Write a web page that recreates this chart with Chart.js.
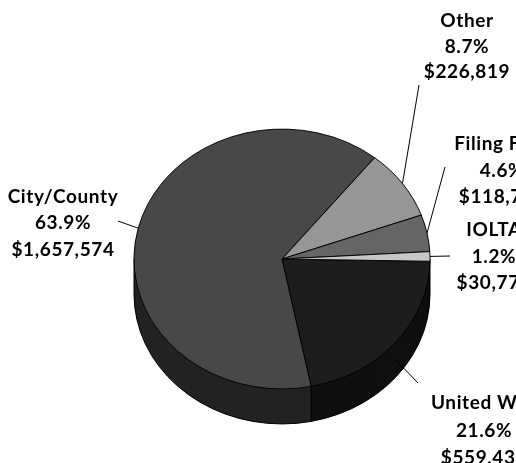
<!DOCTYPE html>
<html>
<head>
<meta charset="utf-8">
<script src="https://cdn.jsdelivr.net/npm/chart.js@4.4.0/dist/chart.umd.min.js"></script>
<style>
html, body { margin: 0; padding: 0; background: #fff; }
#wrap { width: 516px; height: 463px; }
</style>
</head>
<body>
<div id="wrap"><canvas id="fundChart" width="516" height="463"></canvas></div>
<script>
// funding sources, in drawing order (clockwise from 3 o'clock)
var sources = ["United Way", "City/County", "Other", "Filing Fees", "IOLTA"];
var amounts = [559436, 1657574, 226819, 118735, 30772];
var topColors = ["#1d1d1d", "#484848", "#969696", "#656565", "#c6c6c6"];
var sideColors = ["#0f0f0f", "#232323", "#5c5c5c", "#3c3c3c", "#8a8a8a"];

var tilt = 0.878;   // vertical squash of the pie top
var depth = 35;     // thickness of the pie in px

// label text centres and where each leader line ends
var labelSpots = {
	"United Way":  { x: 484, y: [403, 431, 458], lx: 418, ly: 383 },
	"City/County": { x: 63,  y: [197, 223, 250], lx: 118, ly: 221 },
	"Other":       { x: 467, y: [21, 47, 72],    lx: 419, ly: 85 },
	"Filing Fees": { x: 502, y: [144, 171, 197], lx: 445, ly: 167 },
	"IOLTA":       { x: 494, y: [230, 257, 283], lx: 450, ly: 256 }
};

var total = 0;
for (var i = 0; i < amounts.length; i++) total += amounts[i];

function money(v) {
	return "$" + v.toLocaleString("en-US");
}

var pie3d = {
	id: "pie3d",
	beforeDatasetsDraw: function(chart) {
		var ctx = chart.ctx;
		var arcs = chart.getDatasetMeta(0).data;
		var cx = arcs[0].x, cy = arcs[0].y, r = arcs[0].outerRadius;
		ctx.save();
		// side wall: stack the slices downward
		for (var d = depth; d > 0; d--) {
			ctx.save();
			ctx.translate(cx, cy + d);
			ctx.scale(1, tilt);
			for (var i = 0; i < arcs.length; i++) {
				ctx.beginPath();
				ctx.moveTo(0, 0);
				ctx.arc(0, 0, r, arcs[i].startAngle, arcs[i].endAngle);
				ctx.closePath();
				ctx.fillStyle = sideColors[i];
				ctx.fill();
			}
			ctx.restore();
		}
		ctx.strokeStyle = "#000";
		ctx.lineWidth = 1;
		ctx.beginPath();
		ctx.ellipse(cx, cy + depth, r, r * tilt, 0, 0, Math.PI);
		ctx.stroke();
		ctx.beginPath();
		ctx.moveTo(cx - r, cy);
		ctx.lineTo(cx - r, cy + depth);
		ctx.moveTo(cx + r, cy);
		ctx.lineTo(cx + r, cy + depth);
		for (var j = 0; j < arcs.length; j++) {
			var a = arcs[j].startAngle;
			if (Math.sin(a) > 0.05) {
				var px = cx + r * Math.cos(a), py = cy + r * tilt * Math.sin(a);
				ctx.moveTo(px, py);
				ctx.lineTo(px, py + depth);
			}
		}
		ctx.stroke();
		// top face gets drawn squashed
		ctx.translate(cx, cy);
		ctx.scale(1, tilt);
		ctx.translate(-cx, -cy);
	},
	afterDatasetsDraw: function(chart) {
		var ctx = chart.ctx;
		ctx.restore();
		var arcs = chart.getDatasetMeta(0).data;
		ctx.save();
		ctx.strokeStyle = "#000";
		ctx.lineWidth = 1;
		ctx.fillStyle = "#000";
		ctx.font = "bold 19px Lato";
		ctx.letterSpacing = "0.6px";
		ctx.textAlign = "center";
		ctx.textBaseline = "middle";
		for (var i = 0; i < arcs.length; i++) {
			var arc = arcs[i];
			var mid = (arc.startAngle + arc.endAngle) / 2;
			var sx = arc.x + arc.outerRadius * Math.cos(mid);
			var sy = arc.y + arc.outerRadius * tilt * Math.sin(mid);
			if (Math.sin(mid) > 0.2) sy += depth / 2;
			var spot = labelSpots[sources[i]];
			ctx.beginPath();
			ctx.moveTo(sx, sy);
			ctx.lineTo(spot.lx, spot.ly);
			ctx.stroke();
			var lines = [sources[i], (amounts[i] / total * 100).toFixed(1) + "%", money(amounts[i])];
			for (var k = 0; k < lines.length; k++) {
				ctx.fillText(lines[k], spot.x, spot.y[k]);
			}
		}
		ctx.restore();
	}
};

var ctx = document.getElementById("fundChart").getContext("2d");
var fundChart = new Chart(ctx, {
	type: "pie",
	data: {
		labels: sources,
		datasets: [{
			data: amounts,
			backgroundColor: topColors,
			borderColor: "#000",
			borderWidth: 1,
			hoverOffset: 0,
			clip: false
		}]
	},
	options: {
		responsive: false,
		animation: false,
		rotation: 91,
		radius: 148,
		layout: { padding: { left: 134, right: 86, top: 111, bottom: 56 } },
		plugins: {
			legend: { display: false },
			tooltip: { enabled: false }
		}
	},
	plugins: [pie3d]
});
</script>
</body>
</html>
